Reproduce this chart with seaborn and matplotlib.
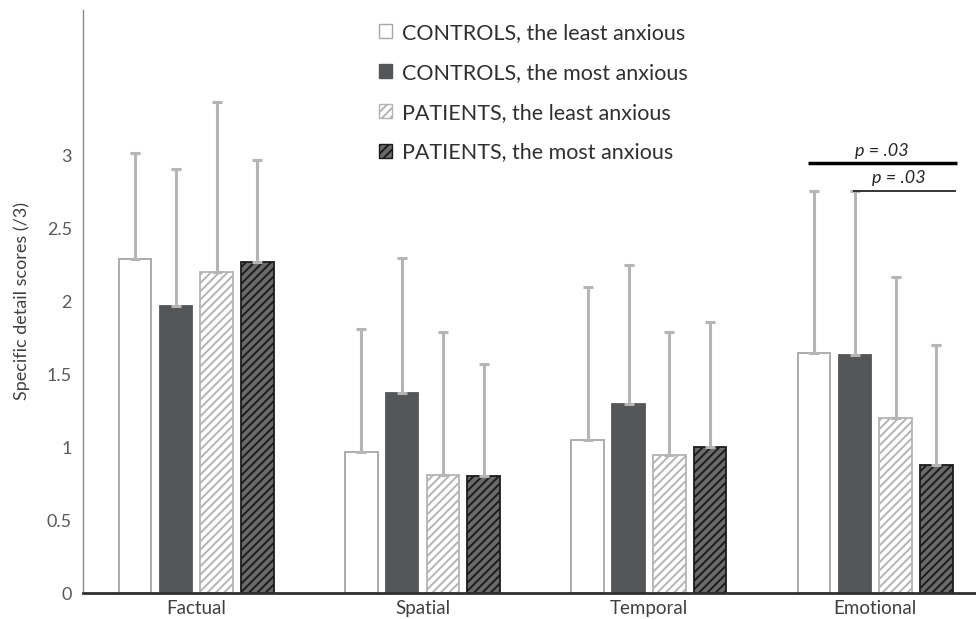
import matplotlib
matplotlib.use("Agg")
import matplotlib.pyplot as plt
import numpy as np
import pandas as pd
import seaborn as sns
from matplotlib.patches import Patch

# values
CATEGORIES = ["Factual", "Spatial", "Temporal", "Emotional"]
GROUPS = [
    "CONTROLS, the least anxious",
    "CONTROLS, the most anxious",
    "PATIENTS, the least anxious",
    "PATIENTS, the most anxious",
]
MEAN_CTRL_LEAST = [2.29, 0.97, 1.05, 1.65]
MEAN_CTRL_MOST = [1.97, 1.37, 1.30, 1.63]
MEAN_PAT_LEAST = [2.20, 0.81, 0.95, 1.20]
MEAN_PAT_MOST = [2.27, 0.80, 1.00, 0.88]
SD_CTRL_LEAST = [0.73, 0.84, 1.05, 1.11]
SD_CTRL_MOST = [0.94, 0.93, 0.95, 1.13]
SD_PAT_LEAST = [1.17, 0.98, 0.84, 0.97]
SD_PAT_MOST = [0.70, 0.77, 0.86, 0.82]
Y_TICKS = [0, 0.5, 1, 1.5, 2, 2.5, 3]
Y_TICK_LABELS = ["0", "0.5", "1", "1.5", "2", "2.5", "3"]
P_LABEL = "p = .03"

MEANS = [MEAN_CTRL_LEAST, MEAN_CTRL_MOST, MEAN_PAT_LEAST, MEAN_PAT_MOST]
SDS = [SD_CTRL_LEAST, SD_CTRL_MOST, SD_PAT_LEAST, SD_PAT_MOST]

# face, edge (= hatch colour), hatch
STYLES = [
    ("white", "#a6a6a6", ""),
    ("#555658", "#555658", ""),
    ("white", "#b4b4b4", "////"),
    ("#6a6a6a", "#1c1c1c", "////"),
]

rows = []
for g, means in zip(GROUPS, MEANS):
    for c, m in zip(CATEGORIES, means):
        rows.append({"domain": c, "group": g, "score": m})
df = pd.DataFrame(rows)

sns.set_style("white")
plt.rcParams["font.family"] = ["Lato", "DejaVu Sans"]
plt.rcParams["hatch.linewidth"] = 1.4

fig = plt.figure(figsize=(9.76, 6.19), dpi=100)
ax = fig.add_axes([83 / 976, 26 / 619, 893 / 976, 583 / 619])

sns.barplot(
    data=df,
    x="domain",
    y="score",
    hue="group",
    order=CATEGORIES,
    hue_order=GROUPS,
    palette=["white"] * 4,
    width=0.72,
    gap=0.2,
    errorbar=None,
    legend=False,
    ax=ax,
)

for cont, (face, edge, hatch), sds in zip(ax.containers, STYLES, SDS):
    xs, ys = [], []
    for bar in cont:
        bar.set_facecolor(face)
        bar.set_edgecolor(edge)
        bar.set_hatch(hatch)
        bar.set_linewidth(1.3)
        xs.append(bar.get_x() + bar.get_width() / 2)
        ys.append(bar.get_height())
    ax.errorbar(
        xs, ys, yerr=[np.zeros(len(sds)), sds], fmt="none",
        ecolor="#b5b5b5", elinewidth=2.2, capsize=3.6, capthick=2.2, zorder=1,
    )

ax.set_xlim(-0.5, 3.445)
ax.set_ylim(0, 4.0)
ax.set_yticks(Y_TICKS)
ax.set_yticklabels(Y_TICK_LABELS)
ax.tick_params(axis="y", length=0, pad=8, labelsize=13, labelcolor="#595959")
ax.tick_params(axis="x", length=0, pad=5, labelsize=13.5, labelcolor="#404040")
ax.set_xlabel("")
ax.set_ylabel("Specific detail scores (/3)", fontsize=13, color="#404040", labelpad=12)

sns.despine(ax=ax)
ax.spines["left"].set_color("#8c8c8c")
ax.spines["left"].set_linewidth(1.0)
ax.spines["bottom"].set_color("#303030")
ax.spines["bottom"].set_linewidth(2.0)

# significance brackets
ax.plot([2.705, 3.36], [2.95, 2.95], color="black", lw=2.5, solid_capstyle="butt")
ax.text(3.03, 2.98, P_LABEL, ha="center", va="bottom", fontsize=13,
        style="italic", color="#262626")
ax.plot([2.90, 3.357], [2.76, 2.76], color="#262626", lw=1.3, solid_capstyle="butt")
ax.text(3.105, 2.79, P_LABEL, ha="center", va="bottom", fontsize=13,
        style="italic", color="#262626")

handles = [Patch(facecolor=f, edgecolor=e, hatch=h, linewidth=1.0) for f, e, h in STYLES]
fig.legend(
    handles, GROUPS, loc="upper left", bbox_to_anchor=(379 / 976, 1 - 23 / 619),
    frameon=False, fontsize=15.5, handlelength=0.62, handleheight=0.62,
    handletextpad=0.47, labelspacing=0.92, labelcolor="#303030",
    borderpad=0, borderaxespad=0,
)

fig.savefig("out.png", dpi=100)
